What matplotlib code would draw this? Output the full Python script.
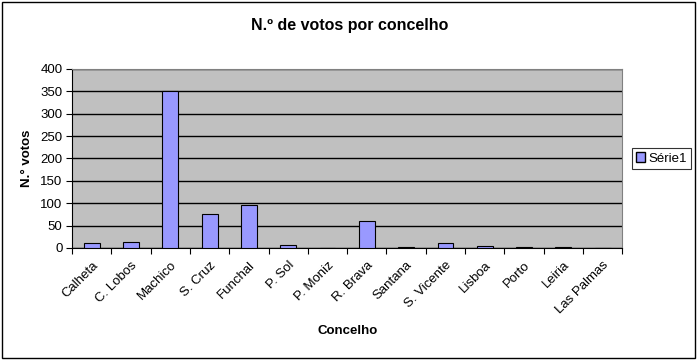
import matplotlib.pyplot as plt
import numpy as np
from matplotlib.patches import Rectangle, Patch

plt.rcParams['font.family'] = ['Liberation Sans', 'DejaVu Sans']

concelhos = ['Calheta', 'C. Lobos', 'Machico', 'S. Cruz', 'Funchal', 'P. Sol',
             'P. Moniz', 'R. Brava', 'Santana', 'S. Vicente', 'Lisboa', 'Porto',
             'Leiria', 'Las Palmas']
votos = [11, 13, 350, 76, 96, 6, 0, 60, 1, 11, 4, 1, 1, 0]

fig = plt.figure(figsize=(7, 3.63), dpi=100)
ax = fig.add_axes([0.103, 0.317, 0.786, 0.493])

x = np.arange(len(concelhos))
ax.set_facecolor('#C0C0C0')
ax.set_axisbelow(True)
ax.yaxis.grid(True, color='black', linewidth=1)
ax.bar(x, votos, width=0.4, color='#9999FF', edgecolor='black', linewidth=0.8, zorder=3)

ax.set_xlim(-0.5, len(concelhos) - 0.5)
ax.set_ylim(0, 400)
ax.set_yticks(range(0, 401, 50))
ax.tick_params(axis='y', labelsize=9.5, length=4, direction='out', pad=3)

# ticks between categories, labels centred under bars
ax.set_xticks(np.arange(-0.5, len(concelhos)), minor=False)
ax.set_xticklabels([])
ax.set_xticks(x, minor=True)
ax.set_xticklabels(concelhos, minor=True, rotation=45, ha='right', rotation_mode='anchor', fontsize=9.5)
ax.tick_params(axis='x', which='major', length=4, direction='out')
ax.tick_params(axis='x', which='minor', length=0, pad=8)

for s in ['top', 'right']:
    ax.spines[s].set_color('#808080')
ax.spines['left'].set_color('black')
ax.spines['bottom'].set_color('black')

ax.set_ylabel('N.° votos', fontsize=9.5, fontweight='bold', labelpad=5)
ax.set_xlabel('Concelho', fontsize=9.5, fontweight='bold', labelpad=6)
fig.text(0.5, 0.93, 'N.º de votos por concelho', ha='center', va='center',
         fontsize=11.5, fontweight='bold')

leg = ax.legend([Patch(facecolor='#9999FF', edgecolor='black')], ['Série1'],
                loc='center left', bbox_to_anchor=(1.017, 0.5), fontsize=9.5,
                frameon=True, fancybox=False, handlelength=0.7, handleheight=0.7,
                handletextpad=0.3, borderpad=0.3, borderaxespad=0)
leg.get_frame().set_edgecolor('black')
leg.get_frame().set_linewidth(0.8)

fig.patches.append(Rectangle((0.003, 0.014), 0.99, 0.98, transform=fig.transFigure,
                             fill=False, edgecolor='black', linewidth=1))

fig.savefig('out.png', dpi=100)
